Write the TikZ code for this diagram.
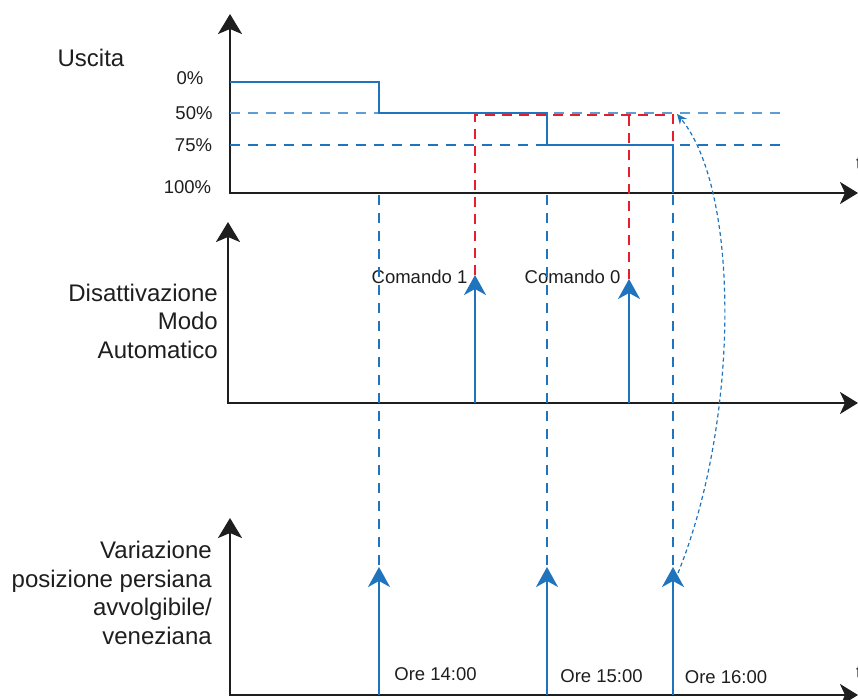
\documentclass[tikz,border=0pt]{standalone}
\usepackage{fontspec}
\setmainfont{Liberation Sans}
\usetikzlibrary{arrows.meta,positioning}
\definecolor{shutblue}{HTML}{1F74BD}
\definecolor{shutpale}{HTML}{5E9DD3}
\definecolor{shutred}{HTML}{E41E2B}
\definecolor{shutink}{HTML}{1E1E1E}
\tikzset{
  axis/.style={line width=2.4pt, color=shutink, {Stealth[length=20pt, width=24pt, inset=5pt]}-{Stealth[length=18pt, width=22pt, inset=5pt]}},
  lvl/.style={line width=1.3pt, dash pattern=on 10pt off 8pt},
  sig/.style={shutblue, line width=2.2pt},
  trig/.style={sig, -{Stealth[length=20pt, width=22pt, inset=6pt]}},
  link/.style={shutblue, line width=2.2pt, dash pattern=on 10pt off 8pt},
  cmd/.style={shutred, line width=2pt, dash pattern=on 10pt off 7pt},
  back/.style={shutblue, line width=1.2pt, dash pattern=on 4pt off 3pt, -{Stealth[length=10pt, width=9pt]}},
  big/.style={font=\fontsize{24}{28.5}\selectfont, text=shutink, align=right, inner sep=0pt},
  sml/.style={font=\fontsize{18.5}{21}\selectfont, text=shutink, inner sep=0pt},
}
\begin{document}
\begin{tikzpicture}[x=1pt, y=-1pt]
  \useasboundingbox (0,0) rectangle (858,700);
  % time marks and levels
  \coordinate (t14) at (379,0);
  \coordinate (c1)  at (475,0);
  \coordinate (t15) at (547,0);
  \coordinate (c0)  at (629,0);
  \coordinate (t16) at (673,0);
  \coordinate (y0)  at (0,82);
  \coordinate (y50) at (0,113);
  \coordinate (y75) at (0,145);
  \coordinate (yr)  at (0,115);
  % the three axes
  \foreach \xo/\yo/\ytop in {230/193/14, 228/403/222, 230/695/518}
    \draw[axis] (\xo,\ytop) -- (\xo,\yo) -- (858,\yo);
  % labels
  \node[big] (uscita) at (91,58) {Uscita};
  \node[big, anchor=east] (disatt) at (218,321) {Disattivazione\\Modo\\Automatico};
  \node[big, anchor=east] (variaz) at (212,593) {Variazione\\posizione persiana\\avvolgibile/\\veneziana};
  \node[sml] (p0)   at (190,78)  {0\%};
  \node[sml] (p50)  at (194,113) {50\%};
  \node[sml] (p75)  at (193.5,145) {75\%};
  \node[sml] (p100) at (187.5,187) {100\%};
  \node[sml, anchor=west] (tA) at (856,164) {t};
  \node[sml, anchor=west] (tC) at (856,673) {t};
  % level lines
  \draw[lvl, shutpale] (230,113) -- (787,113);
  \draw[lvl, shutblue] (230,145) -- (787,145);
  % output
  \draw[sig] (230,82) -- (t14 |- y0) -- (t14 |- y50) -- (t15 |- y50) -- (t15 |- y75) -- (t16 |- y75) -- (673,193);
  % commands
  \node[sml] (cmd1) at (419.5,277) {Comando 1};
  \node[sml] (cmd0) at (572.5,277) {Comando 0};
  \coordinate (k1) at (475,275);
  \coordinate (k0) at (629,279);
  \draw[trig] (475,403) -- (k1);
  \draw[trig] (629,403) -- (k0);
  \draw[cmd] (k1) -- (c1 |- yr) -- (t16 |- yr) -- (t16 |- y75);
  \draw[cmd] (k0) -- (c0 |- yr);
  % hourly changes
  \foreach \x/\n in {379/14, 547/15, 673/16} {
    \coordinate (h\n) at (\x,567);
    \draw[link] (\x,195) -- (h\n);
    \draw[trig] (\x,695) -- (h\n);
  }
  \node[sml] (ore14) at (435.5,674) {Ore 14:00};
  \node[sml] (ore15) at (601.5,676) {Ore 15:00};
  \node[sml] (ore16) at (726,677)   {Ore 16:00};
  % back to 50%
  \coordinate (ret) at (677,114);
  \draw[back] (678,573) .. controls (740,420) and (740,190) .. (ret);
\end{tikzpicture}
\end{document}
